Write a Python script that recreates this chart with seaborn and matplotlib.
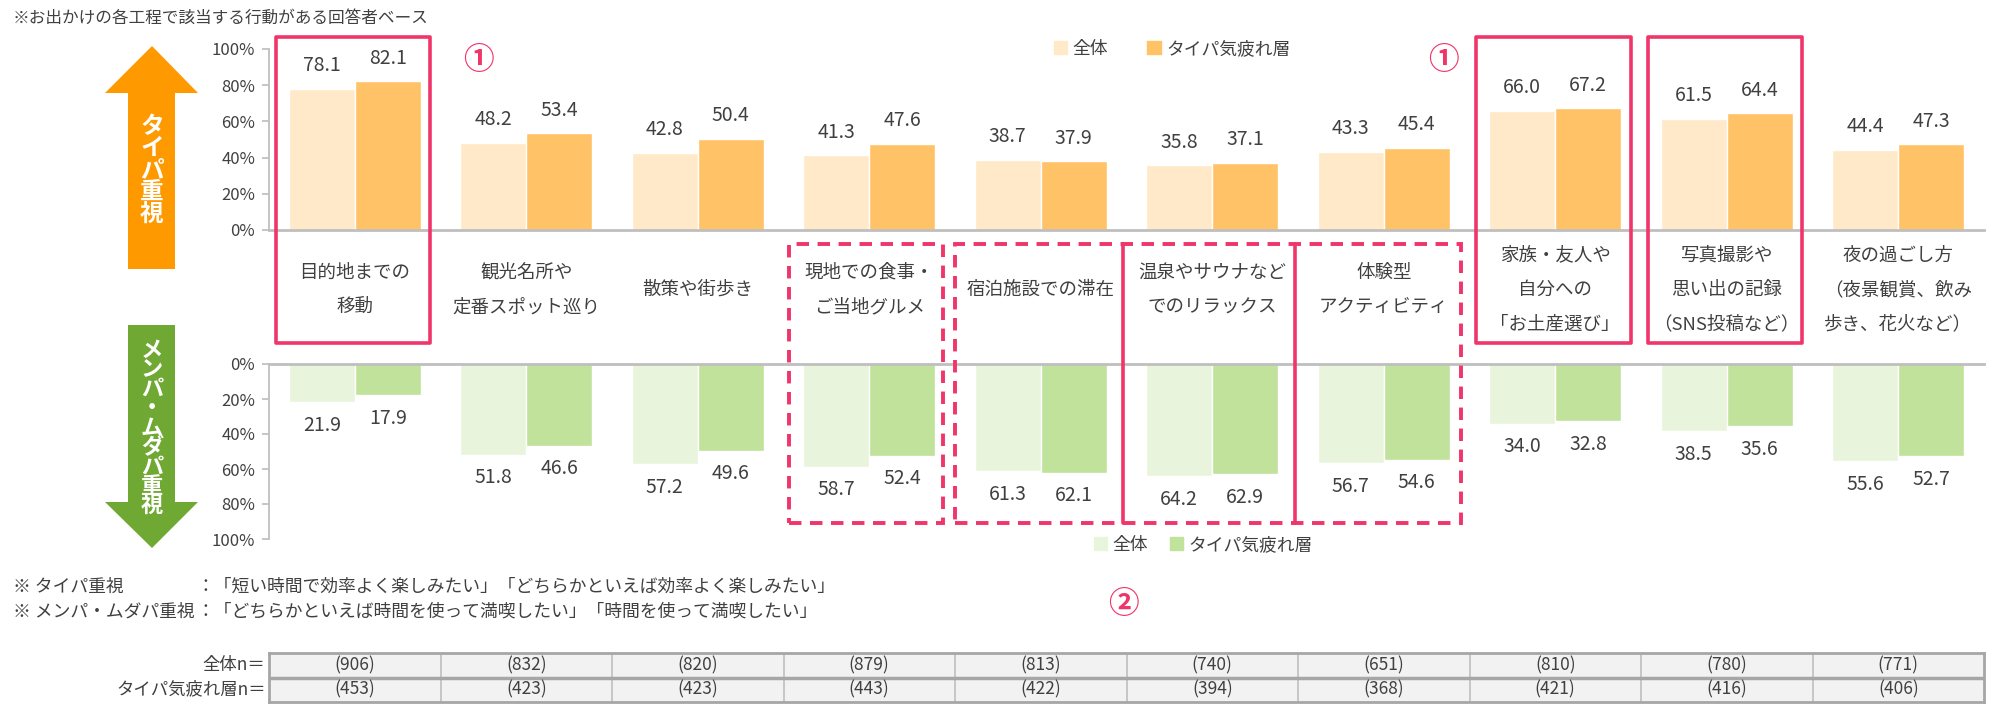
import numpy as np
import pandas as pd
import matplotlib
matplotlib.use("Agg")
import matplotlib.pyplot as plt
import matplotlib.transforms as mtransforms
from matplotlib.patches import Polygon, Rectangle, Patch
from matplotlib.lines import Line2D
import seaborn as sns

# ---- data -------------------------------------------------------------
categories = [
    "目的地までの\n移動",
    "観光名所や\n定番スポット巡り",
    "散策や街歩き",
    "現地での食事・\nご当地グルメ",
    "宿泊施設での滞在",
    "温泉やサウナなど\nでのリラックス",
    "体験型\nアクティビティ",
    "家族・友人や\n自分への\n「お土産選び」",
    "写真撮影や\n思い出の記録\n（SNS投稿など）",
    "夜の過ごし方\n（夜景観賞、飲み\n歩き、花火など）",
]
series = ["全体", "タイパ気疲れ層"]
top_all = [78.1, 48.2, 42.8, 41.3, 38.7, 35.8, 43.3, 66.0, 61.5, 44.4]
top_tired = [82.1, 53.4, 50.4, 47.6, 37.9, 37.1, 45.4, 67.2, 64.4, 47.3]
bot_all = [21.9, 51.8, 57.2, 58.7, 61.3, 64.2, 56.7, 34.0, 38.5, 55.6]
bot_tired = [17.9, 46.6, 49.6, 52.4, 62.1, 62.9, 54.6, 32.8, 35.6, 52.7]
n_all = [906, 832, 820, 879, 813, 740, 651, 810, 780, 771]
n_tired = [453, 423, 423, 443, 422, 394, 368, 421, 416, 406]
y_ticks = [0, 20, 40, 60, 80, 100]

top_note = "※お出かけの各工程で該当する行動がある回答者ベース"
notes = [
    ("※ タイパ重視", "：「短い時間で効率よく楽しみたい」「どちらかといえば効率よく楽しみたい」"),
    ("※ メンパ・ムダパ重視", "：「どちらかといえば時間を使って満喫したい」「時間を使って満喫したい」"),
]
row_labels = ["全体n＝", "タイパ気疲れ層n＝"]

# ---- style ------------------------------------------------------------
W, H = 2000, 713
TEXT = "#404040"
PINK = "#F0356A"
LINE = "#BFBFBF"
ORANGE_L, ORANGE_D = "#FFE9C8", "#FFC266"
GREEN_L, GREEN_D = "#E8F5DC", "#C0E29A"


def fx(px):
    return px / W


def fy(py):
    return 1 - py / H


sns.set_theme(style="white")
plt.rcParams["font.family"] = ["Noto Sans CJK JP", "DejaVu Sans"]

fig = plt.figure(figsize=(20, 7.13), dpi=100)
ax_top = fig.add_axes([fx(269), fy(230), fx(1715), 181 / H])
ax_bot = fig.add_axes([fx(269), fy(539), fx(1715), 175 / H])
ax_tab = fig.add_axes([fx(269), fy(702), fx(1715), 49 / H])


def long_df(a, b):
    return pd.DataFrame({
        "category": categories * 2,
        "series": [series[0]] * len(a) + [series[1]] * len(b),
        "value": a + b,
    })


for ax, df, pal, sign in [(ax_top, long_df(top_all, top_tired), [ORANGE_L, ORANGE_D], 1),
                          (ax_bot, long_df(bot_all, bot_tired), [GREEN_L, GREEN_D], -1)]:
    sns.barplot(data=df, x="category", y="value", hue="series", order=categories,
                hue_order=series, palette=pal, width=0.77, saturation=1,
                ax=ax, legend=False, errorbar=None)
    # value labels beyond the end of each bar
    for cont in ax.containers:
        for p in cont.patches:
            v = p.get_height()
            ax.annotate(f"{v:.1f}", (p.get_x() + p.get_width() / 2, v),
                        xytext=(0, 9 * sign), textcoords="offset points",
                        ha="center", va="bottom" if sign > 0 else "top",
                        fontsize=14, color=TEXT)
    ax.set_xlim(-0.5, 9.5)
    ax.set_xticks([])
    ax.set_xlabel("")
    ax.set_ylabel("")
    ax.set_yticks(y_ticks)
    ax.set_yticklabels([f"{v}%" for v in y_ticks])
    ax.tick_params(axis="y", left=True, length=5, color=LINE, labelsize=12,
                   labelcolor=TEXT, pad=5)
    for s in ax.spines.values():
        s.set_visible(False)
    ax.spines["left"].set_visible(True)
    ax.spines["left"].set_color(LINE)
    ax.spines["left"].set_linewidth(1.3)

ax_top.set_ylim(0, 100)
ax_top.spines["bottom"].set_visible(True)
ax_top.spines["bottom"].set_color(LINE)
ax_top.spines["bottom"].set_linewidth(2)

ax_bot.set_ylim(100, 0)
ax_bot.spines["top"].set_visible(True)
ax_bot.spines["top"].set_color(LINE)
ax_bot.spines["top"].set_linewidth(2)

# ---- category labels between the panels -------------------------------
trans = mtransforms.blended_transform_factory(ax_top.transData, fig.transFigure)
for i, cat in enumerate(categories):
    lines = cat.split("\n")
    for k, line in enumerate(lines):
        ypx = 290 + (k - (len(lines) - 1) / 2) * 34.5
        ax_top.text(i, fy(ypx), line, transform=trans, ha="center", va="center",
                    fontsize=13.3, color=TEXT, clip_on=False)

# ---- legends -----------------------------------------------------------
fig.legend([Patch(color=ORANGE_L), Patch(color=ORANGE_D)], series,
           loc="center left", bbox_to_anchor=(fx(1038), fy(49)), ncol=2,
           frameon=False, fontsize=12.8, handlelength=0.75, handleheight=0.75,
           handletextpad=0.3, columnspacing=2.2, labelcolor=TEXT)
fig.legend([Patch(color=GREEN_L), Patch(color=GREEN_D)], series,
           loc="center left", bbox_to_anchor=(fx(1078), fy(545)), ncol=2,
           frameon=False, fontsize=12.8, handlelength=0.75, handleheight=0.75,
           handletextpad=0.3, columnspacing=1.2, labelcolor=TEXT)

# ---- arrows -------------------------------------------------------------
orange_pts = [(152, 46), (198, 93), (175, 93), (175, 269), (128, 269), (128, 93), (105, 93)]
green_pts = [(128, 325), (175, 325), (175, 502), (198, 502), (152, 548), (105, 502), (128, 502)]
for pts, col in [(orange_pts, "#FF9900"), (green_pts, "#6FA832")]:
    fig.add_artist(Polygon([(fx(x), fy(y)) for x, y in pts], closed=True,
                           facecolor=col, edgecolor="none", transform=fig.transFigure))

for word, y0, step, fs in [("タイパ重視", 126, 22, 17), ("メンパ・ムダパ重視", 350, 19.5, 16)]:
    for k, ch in enumerate(word):
        fig.text(fx(152), fy(y0 + k * step), ch, ha="center", va="center",
                 fontsize=fs, fontweight="bold", color="white")

# ---- highlight boxes ----------------------------------------------------
for i in [0, 7, 8]:
    fig.add_artist(Rectangle((i - 0.46, fy(343)), 0.90, fy(37) - fy(343),
                             transform=trans, fill=False, ec=PINK, lw=2.6,
                             joinstyle="round"))
for x0, x1 in [(2.53, 3.43), (3.50, 6.45)]:
    fig.add_artist(Rectangle((x0, fy(523)), x1 - x0, fy(244) - fy(523),
                             transform=trans, fill=False, ec=PINK, lw=2.8,
                             linestyle=(0, (3.2, 2.2))))
for xv in [4.48, 5.48]:
    fig.add_artist(Line2D([xv, xv], [fy(523), fy(244)], transform=trans,
                          color=PINK, lw=2.6))

for (xp, yp), txt in [((478, 60), "①"), ((1443, 60), "①"), ((1123, 604), "②")]:
    fig.text(fx(xp), fy(yp), txt, ha="center", va="center", fontsize=22,
             fontweight="bold", color=PINK)

# ---- notes --------------------------------------------------------------
fig.text(fx(13), fy(18), top_note, ha="left", va="center", fontsize=12, color=TEXT)
for (lab, body), yp in zip(notes, [587, 612]):
    fig.text(fx(13), fy(yp), lab, ha="left", va="center", fontsize=12.8, color=TEXT)
    fig.text(fx(196), fy(yp), body, ha="left", va="center", fontsize=12.8, color=TEXT)

# ---- sample size table --------------------------------------------------
ax_tab.set_facecolor("#F2F2F2")
ax_tab.set_xlim(-0.5, 9.5)
ax_tab.set_ylim(0, 2)
ax_tab.set_xticks([])
ax_tab.set_yticks([])
for s in ax_tab.spines.values():
    s.set_visible(True)
    s.set_color("#A6A6A6")
    s.set_linewidth(2)
for i in range(1, len(categories)):
    ax_tab.axvline(i - 0.5, color="#BFBFBF", lw=1.2)
ax_tab.axhline(1, color="#A6A6A6", lw=2.5)
for i, (a, b) in enumerate(zip(n_all, n_tired)):
    ax_tab.text(i, 1.5, f"({a})", ha="center", va="center", fontsize=12.5, color=TEXT)
    ax_tab.text(i, 0.5, f"({b})", ha="center", va="center", fontsize=12.5, color=TEXT)
for yv, lab in zip([1.5, 0.5], row_labels):
    ax_tab.text(-0.52, yv, lab, ha="right", va="center", fontsize=12.5, color=TEXT)

fig.savefig("out.png", dpi=100, facecolor="white")
